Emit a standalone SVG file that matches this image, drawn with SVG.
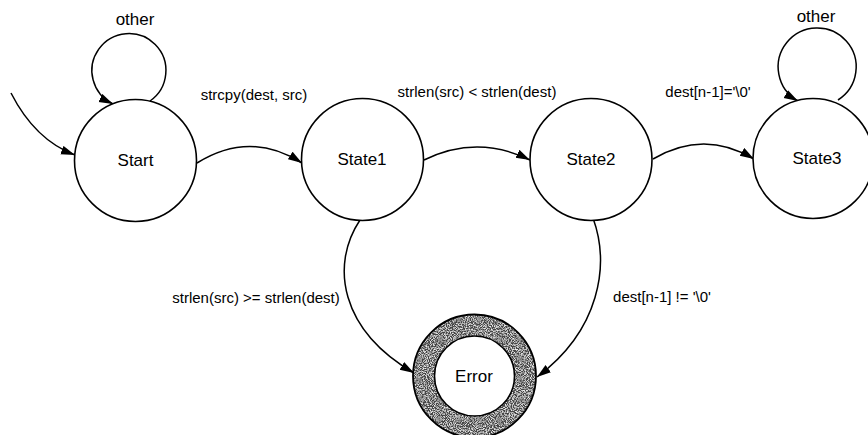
<svg xmlns="http://www.w3.org/2000/svg" width="868" height="435" viewBox="0 0 868 435">
  <style>
    .state { fill: #fff; stroke: #000; stroke-width: 1.6; }
    .edge { fill: none; stroke: #000; stroke-width: 1.5; marker-end: url(#arrow); }
    .name { font-family: "Liberation Sans", Arial, sans-serif; font-size: 17px; fill: #000; text-anchor: middle; }
    .label { font-family: "Liberation Sans", Arial, sans-serif; font-size: 15px; fill: #000; text-anchor: middle; }
  </style>
  <defs>
    <marker id="arrow" markerUnits="userSpaceOnUse" markerWidth="15" markerHeight="10" refX="14" refY="4.5" orient="auto">
      <path d="M0,0 L14,4.5 L0,9 Z" fill="#000"/>
    </marker>
    <!-- speckled texture for the error state's ring -->
    <filter id="grain" x="0" y="0" width="100%" height="100%">
      <feTurbulence type="fractalNoise" baseFrequency="0.95" numOctaves="2" seed="7" result="noise"/>
      <feColorMatrix in="noise" type="matrix" values="0 0 0 0 0.85  0 0 0 0 0.85  0 0 0 0 0.85  3 0 0 0 -1.25" result="speck"/>
      <feComposite in="speck" in2="SourceGraphic" operator="in" result="specks"/>
      <feMerge>
        <feMergeNode in="SourceGraphic"/>
        <feMergeNode in="specks"/>
      </feMerge>
    </filter>
  </defs>

  <rect width="868" height="435" fill="#fff"/>

  <g id="connectors">
    <!-- initial transition -->
    <path class="edge" d="M 11 93 Q 35 140 75 155"/>
    <!-- self loops -->
    <path class="edge" d="M 150 101 A 37 37 0 1 0 113 104"/>
    <path class="edge" d="M 838 100 A 39 39 0 1 0 798 101"/>
    <!-- forward transitions -->
    <path class="edge" d="M 197 163 Q 250 130 302 163"/>
    <path class="edge" d="M 424 160 Q 477 134 530 160"/>
    <path class="edge" d="M 653 159 Q 704 129 754 159"/>
    <!-- transitions to the error state -->
    <path class="edge" d="M 360 220 C 330 265 340 330 414 373"/>
    <path class="edge" d="M 593 218 C 610 265 600 330 537 377"/>
  </g>

  <g id="edge-labels">
    <text class="label" x="135" y="25" style="font-size:17px">other</text>
    <text class="label" x="816" y="22" style="font-size:17px">other</text>
    <text class="label" x="254" y="100">strcpy(dest, src)</text>
    <text class="label" x="477" y="97">strlen(src) &lt; strlen(dest)</text>
    <text class="label" x="708" y="97">dest[n-1]='\0'</text>
    <text class="label" x="256" y="303">strlen(src) &gt;= strlen(dest)</text>
    <text class="label" x="662" y="302">dest[n-1] != '\0'</text>
  </g>

  <g id="start">
    <circle class="state" cx="135.5" cy="160.5" r="61"/>
    <text class="name" x="135.5" y="166">Start</text>
  </g>

  <g id="state1">
    <circle class="state" cx="362.5" cy="159.5" r="61"/>
    <text class="name" x="362" y="165">State1</text>
  </g>

  <g id="state2">
    <circle class="state" cx="591" cy="159.5" r="61"/>
    <text class="name" x="591" y="165">State2</text>
  </g>

  <g id="state3">
    <circle class="state" cx="813" cy="158.5" r="60"/>
    <text class="name" x="817" y="164">State3</text>
  </g>

  <g id="error">
    <path d="M 474.5 314.5 A 61.5 61.5 0 1 1 474.4 314.5 Z M 474.5 336 A 40 40 0 1 0 474.6 336 Z" fill="#444" fill-rule="evenodd" filter="url(#grain)"/>
    <circle cx="474.5" cy="376" r="61.5" fill="none" stroke="#000" stroke-width="1.8"/>
    <circle cx="474.5" cy="376" r="40" fill="#fff" stroke="#000" stroke-width="1.6"/>
    <text class="name" x="474" y="382">Error</text>
  </g>
</svg>
